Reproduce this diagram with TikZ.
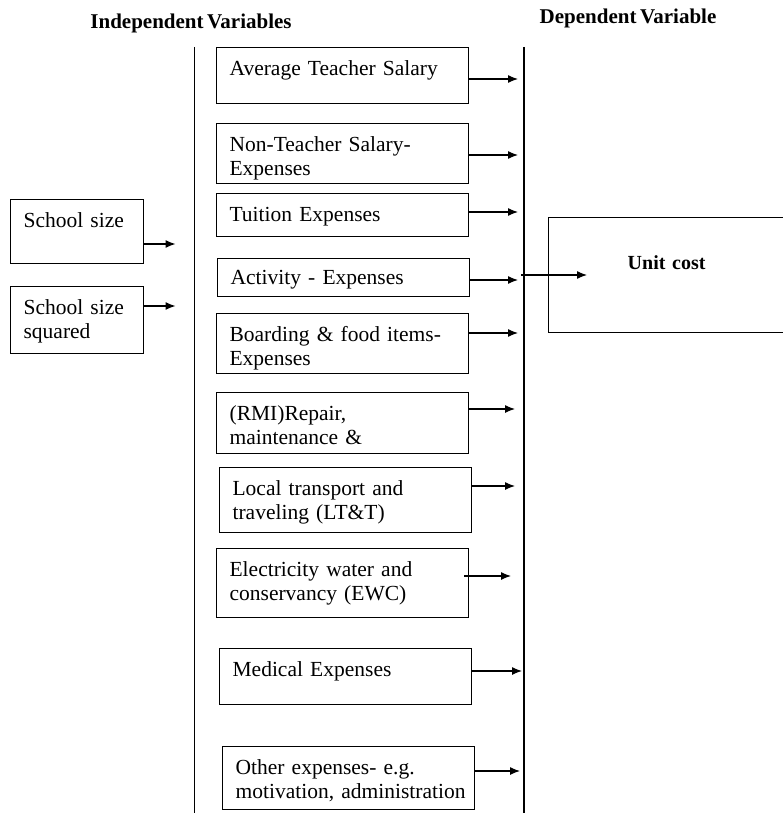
\documentclass[tikz,border=0pt]{standalone}
\usepackage{fontspec}
\setmainfont{Liberation Serif}
\usetikzlibrary{arrows.meta}
\newcommand{\tightspace}{\spaceskip=0.17em plus 0.05em\relax}

\begin{document}
\begin{tikzpicture}[x=1pt,y=-1pt,
  varbox/.style={draw,line width=1.2pt,anchor=north west,text width=226pt,inner xsep=13pt,inner ysep=12pt,align=left,text height=16pt,text depth=#1,font={\fontsize{21.5}{24}\selectfont\tightspace}},
  arr/.style={-{Latex[length=10pt,width=8pt]},line width=1.2pt,shorten >=6pt},
  head/.style={anchor=base,font={\fontsize{21}{24}\selectfont\bfseries\tightspace}}]
\useasboundingbox (0,0) rectangle (782,813);
% headings
\node[head] (indep) at (191,29) {Independent Variables};
\node[head] (dep) at (628,24) {Dependent Variable};
% the two vertical bars
\coordinate (lbus) at (194.5,47);
\coordinate (rbus) at (524,47);
\draw[line width=1.1pt] (lbus) -- (lbus |- 0,813);
\draw[line width=1.1pt] (rbus) -- (rbus |- 0,813);
% school size
\node[varbox=24pt,text width=107pt] (size) at (10,199) {School size};
\node[varbox=27pt,text width=107pt] (sizesq) at (10,286) {School size\\squared};
% expense items
\node[varbox=16pt] (avgsal) at (216,47) {Average Teacher Salary};
\node[varbox=20pt] (nonteach) at (216,123) {Non-Teacher Salary-\\Expenses};
\node[varbox=3pt] (tuition) at (216,193) {Tuition Expenses};
\node[varbox=0pt,text height=14pt] (activity) at (217,258) {Activity - Expenses};
\node[varbox=20pt] (boarding) at (216,313) {Boarding \& food items-\\Expenses};
\node[varbox=21pt] (rmi) at (216,392) {(RMI)Repair,\\maintenance \&};
\node[varbox=25pt] (ltt) at (219,467) {Local transport and\\traveling (LT\&T)};
\node[varbox=29pt] (ewc) at (216,548) {Electricity water and\\conservancy (EWC)};
\node[varbox=16pt] (medical) at (219,648) {Medical Expenses};
\node[varbox=23pt] (other) at (222,746) {Other expenses- e.g.\\\mbox{motivation, administration}};
% outcome
\node[draw,line width=1.2pt,anchor=north west,text width=212pt,inner xsep=12pt,inner ysep=12pt,align=center,text height=40pt,text depth=51pt,font={\fontsize{20}{24}\selectfont\bfseries}] (unit) at (548,217) {Unit cost};
\coordinate (ucin) at (587,275);
% arrows
\draw[arr,shorten >=19pt] (size.east |- 0,244) -- (lbus |- 0,244);
\draw[arr,shorten >=19pt] (sizesq.east |- 0,306) -- (lbus |- 0,306);
\draw[arr] (avgsal.east |- 0,79) -- (rbus |- 0,79);
\draw[arr] (nonteach.east |- 0,155) -- (rbus |- 0,155);
\draw[arr] (tuition.east |- 0,212) -- (rbus |- 0,212);
\draw[arr] (activity.east |- 0,280) -- (rbus |- 0,280);
\draw[arr] (boarding.east |- 0,333) -- (rbus |- 0,333);
\draw[arr,shorten >=9pt] (rmi.east |- 0,409) -- (rbus |- 0,409);
\draw[arr,shorten >=9pt] (ltt.east |- 0,486) -- (rbus |- 0,486);
\draw[arr,shorten >=13pt,shorten <=-5pt] (ewc.east |- 0,576) -- (rbus |- 0,576);
\draw[arr,shorten >=2pt] (medical.east |- 0,671) -- (rbus |- 0,671);
\draw[arr,shorten >=4pt] (other.east |- 0,771) -- (rbus |- 0,771);
\draw[arr,shorten >=0pt,shorten <=-3pt] (rbus |- ucin) -- (ucin);
\end{tikzpicture}
\end{document}
